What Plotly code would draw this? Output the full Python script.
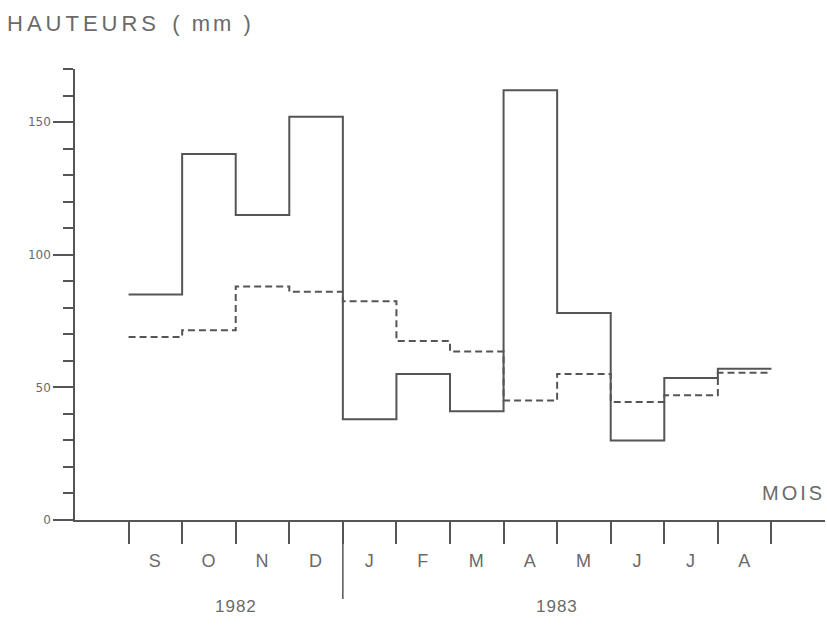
import plotly.graph_objects as go

# Monthly heights (mm), hydrological year Sept 1982 -> Aug 1983
months = ["S", "O", "N", "D", "J", "F", "M", "A", "M", "J", "J", "A"]
solid_mm = [85, 138, 115, 152, 38, 55, 41, 162, 78, 30, 53.5, 57]
dashed_mm = [69, 71.5, 88, 86, 82.5, 67.5, 63.5, 45, 55, 44.5, 47, 55.5]
years = ["1982", "1983"]
months_per_year = [4, 8]

y_major = [0, 50, 100, 150]

INK = "#555555"
TEXT = "#6a6a6a"

# month boundaries: each month occupies [i, i+1]
edges = list(range(len(months) + 1))
centers = [i + 0.5 for i in range(len(months))]


def steps(values):
    return values + [values[-1]]


fig = go.Figure()
fig.add_trace(go.Scatter(
    x=edges, y=steps(solid_mm), mode="lines", line_shape="hv",
    line=dict(color=INK, width=2), showlegend=False, hoverinfo="skip"))
fig.add_trace(go.Scatter(
    x=edges, y=steps(dashed_mm), mode="lines", line_shape="hv",
    line=dict(color=INK, width=2, dash="7px,4px"), showlegend=False,
    hoverinfo="skip"))

# divider between the two calendar years
split = months_per_year[0]
fig.add_shape(type="line", xref="x", yref="paper", x0=split, x1=split,
              y0=0, y1=-0.175, line=dict(color=INK, width=1.5))

# year labels centred under their months
start = 0
for label, n in zip(years, months_per_year):
    fig.add_annotation(x=start + n / 2, xref="x", y=0, yref="paper",
                       yshift=-86, yanchor="middle", showarrow=False,
                       text=f"<span style='letter-spacing:1px'>{label}</span>",
                       font=dict(family="Liberation Sans", size=17, color=TEXT))
    start += n

# axis titles
fig.add_annotation(x=0, xref="paper", xanchor="left", y=1, yref="paper",
                   yanchor="middle", yshift=46, xshift=-70, showarrow=False,
                   text="<span style='letter-spacing:4px'>HAUTEURS</span>"
                        "&nbsp;&nbsp;<span style='letter-spacing:3px'>( mm )</span>",
                   font=dict(family="Liberation Sans", size=22, color=TEXT))
fig.add_annotation(x=1, xref="paper", xanchor="right", y=0, yref="paper",
                   yanchor="bottom", yshift=14, xshift=2, showarrow=False,
                   text="<span style='letter-spacing:3px'>MOIS</span>",
                   font=dict(family="Liberation Sans", size=20, color=TEXT))

fig.update_layout(
    width=827, height=629,
    margin=dict(l=75, r=2, t=69, b=109),
    paper_bgcolor="white", plot_bgcolor="white",
    xaxis=dict(
        range=[-1, 13], showgrid=False, zeroline=False,
        showline=True, linecolor=INK, linewidth=1.5,
        tickmode="array", tickvals=centers,
        ticktext=[f"<span style='letter-spacing:1px'>{m}</span>" for m in months],
        ticks="", ticklabelstandoff=24,
        tickfont=dict(family="Liberation Sans", size=18, color=TEXT),
        minor=dict(tickmode="array", tickvals=edges, ticks="outside",
                   ticklen=22, tickwidth=1.5, tickcolor=INK, showgrid=False),
    ),
    yaxis=dict(
        range=[0, 170], showgrid=False, zeroline=False,
        showline=True, linecolor=INK, linewidth=1.5,
        tickmode="array", tickvals=y_major,
        ticktext=[str(v) for v in y_major],
        ticks="outside", ticklen=20, tickwidth=1.5, tickcolor=INK,
        tickfont=dict(family="DejaVu Sans", size=12, color=TEXT),
        minor=dict(dtick=10, tick0=0, ticks="outside", ticklen=10,
                   tickwidth=1.5, tickcolor=INK, showgrid=False),
    ),
)

fig.write_html("out.html")
